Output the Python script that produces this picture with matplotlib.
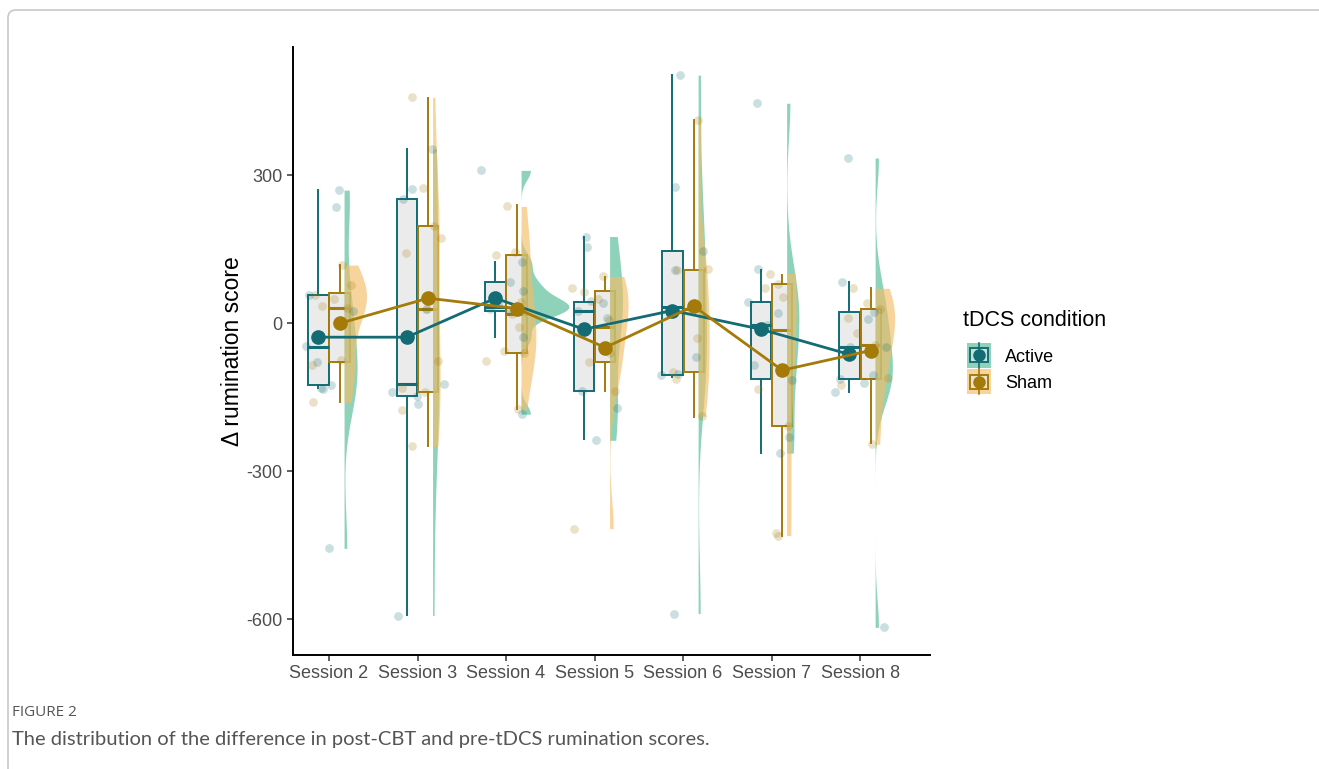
import numpy as np
import matplotlib
matplotlib.use("Agg")
import matplotlib.pyplot as plt
from matplotlib.patches import Patch, Rectangle, FancyBboxPatch
from matplotlib.lines import Line2D
from matplotlib.legend_handler import HandlerBase
from matplotlib.transforms import IdentityTransform

# sessions
sessions = ["Session 2", "Session 3", "Session 4", "Session 5", "Session 6", "Session 7", "Session 8"]

# individual scores (hidden ones estimated from the boxes)
active_pts = [
    [270, 235, 57, 26, -46, -79, -124, -130, -134, -456],
    [353, 272, 251, 30, -122, -140, -148, -164, -592],
    [310, 124, 83, 65, 40, 34, 30, 28, 26, -28, -184],
    [176, 154, 45, 41, 26, 10, -138, -172, -237],
    [503, 276, 146, 109, 33, -69, -103, -105, -588],
    [446, 111, 43, 20, -4, -85, -114, -231, -263],
    [335, 83, 24, 8, -47, -47, -104, -112, -120, -140, -616],
]
sham_pts = [
    [118, 77, 57, 50, 36, 32, -75, -85, -160],
    [458, 274, 197, 172, 142, 30, -77, -130, -140, -175, -249],
    [237, 144, 138, 43, 18, -8, -57, -61, -77, -174],
    [95, 71, 63, 50, 6, -8, -61, -79, -138, -416],
    [413, 111, 109, 30, -30, -99, -113, -188],
    [101, 79, 71, 53, -14, -132, -207, -425, -430],
    [71, 41, 30, 10, -20, -43, -110, -124, -245],
]
# horizontal jitter of the points (px)
active_jit = [
    [10, 7, -20, 24, -23, -12, 2, -8, -6, 0],
    [14, -6, -15, 8, 26, -26, -1, 0, -20],
    [-25, 16, 4, 17, -8, 9, -16, 3, 12, 17, 16],
    [-9, -8, -4, 8, -17, 12, -13, 22, 1],
    [-3, -8, 20, -8, 10, 13, -5, -22, -9],
    [-15, -14, -24, 6, -5, -18, 20, 17, 8],
    [-12, -18, 14, 8, 26, -10, 13, -20, 4, -25, 24],
]
sham_jit = [
    [13, 22, -14, 5, -7, 18, 12, -17, -16],
    [-6, 5, 16, 23, -12, 9, 20, -16, 7, -16, -6],
    [1, 9, -10, 15, 6, 13, -2, 18, -20, 12],
    [8, -23, -11, 3, 14, -11, 15, -6, 20, -21],
    [15, 25, -6, 8, 14, -10, -7, 19],
    [-2, 6, -7, 11, -12, -14, 16, 4, 6],
    [-7, 7, 20, -12, -3, 15, 28, -19, 12],
]

# box statistics: whisker high, q3, median, q1, whisker low
active_box = [
    [270, 57, -47, -124, -130],
    [353, 251, -122, -148, -590],
    [124, 83, 34, 26, -28],
    [174, 43, 26, -138, -235],
    [503, 146, 33, -105, -108],
    [109, 43, -4, -113, -263],
    [83, 24, -47, -112, -140],
]
sham_box = [
    [118, 61, 32, -79, -160],
    [456, 197, 30, -140, -249],
    [239, 138, 18, -61, -174],
    [93, 65, -8, -79, -138],
    [413, 109, 30, -99, -189],
    [99, 79, -14, -207, -430],
    [71, 30, -43, -112, -243],
]

# group means
active_mean = [-28, -28, 51, -12, 26, -12, -63]
sham_mean = [0, 51, 30, -49, 35, -95, -55]

# colours
c_act = "#136b74"
c_sham = "#a47a08"
v_act = "#52ba95"
v_sham = "#f3bd66"
box_fill = "#ebebeb"
v_alpha = 0.65

plt.rcParams["font.family"] = ["Liberation Sans", "DejaVu Sans"]
plt.rcParams["axes.unicode_minus"] = False

fig = plt.figure(figsize=(13.19, 7.69), dpi=100)
ax = fig.add_axes([293 / 1319, 1 - 655 / 769, (930 - 293) / 1319, (655 - 47) / 769])

pos = np.arange(len(sessions))
px = 88.5  # pixels per category
n = len(sessions)


def kde(vals, grid):
    v = np.asarray(vals, float)
    m = len(v)
    sd = v.std(ddof=1)
    iqr = np.percentile(v, 75) - np.percentile(v, 25)
    bw = 0.9 * min(sd, iqr / 1.34) * m ** -0.2
    d = np.exp(-0.5 * ((grid[:, None] - v[None, :]) / bw) ** 2).sum(axis=1)
    return d / (m * bw * np.sqrt(2 * np.pi))


# half violins (same area for all)
dens = []
for grp in (active_pts, sham_pts):
    for vals in grp:
        g = np.linspace(min(vals), max(vals), 300)
        dens.append((g, kde(vals, g)))
k = 0.54 / max(d.max() for g, d in dens)

# boxplots
for box, off, col in [(active_box, -0.12, c_act), (sham_box, 0.12, c_sham)]:
    stats = []
    for b in box:
        stats.append(dict(whishi=b[0], q3=b[1], med=b[2], q1=b[3], whislo=b[4]))
    ax.bxp(stats, positions=pos + off, widths=0.23, patch_artist=True,
           showcaps=False, showfliers=False, manage_ticks=False,
           boxprops=dict(facecolor=box_fill, edgecolor=col, lw=1.4),
           medianprops=dict(color=col, lw=2.2),
           whiskerprops=dict(color=col, lw=1.4), zorder=2)

for i in range(n):
    base = pos[i] + 0.17
    for j, col in enumerate([v_act, v_sham]):
        g, d = dens[j * n + i]
        ax.fill_betweenx(g, base, base + d * k, color=col, alpha=v_alpha, lw=0, zorder=3)

# jittered points
for pts, jit, col in [(active_pts, active_jit, c_act), (sham_pts, sham_jit, c_sham)]:
    for i in range(n):
        xs = pos[i] + np.array(jit[i]) / px
        ax.scatter(xs, pts[i], s=40, color=col, alpha=0.22, lw=0, zorder=4)

# means and connecting lines
ax.plot(pos - 0.12, active_mean, color=c_act, lw=2, marker="o", ms=9.5, zorder=6)
ax.plot(pos + 0.12, sham_mean, color=c_sham, lw=2, marker="o", ms=9.5, zorder=6)

ax.set_xlim(-0.407, 6.79)
ax.set_ylim(-672, 560)
ax.set_xticks(pos)
ax.set_xticklabels(sessions)
ax.set_yticks([300, 0, -300, -600])
ax.tick_params(axis="both", labelsize=13, colors="#333333", labelcolor="#4d4d4d",
               length=4, width=1.1)
for s in ["top", "right"]:
    ax.spines[s].set_visible(False)
for s in ["left", "bottom"]:
    ax.spines[s].set_linewidth(1.4)
ax.set_ylabel("\u0394 rumination score", fontsize=16.5, labelpad=2)


class BoxKey(HandlerBase):
    def __init__(self, fill, edge):
        super().__init__()
        self.fill = fill
        self.edge = edge

    def create_artists(self, legend, orig_handle, xdescent, ydescent, width, height,
                       fontsize, trans):
        x0, y0 = -xdescent, -ydescent - 3
        h = height + 6
        bg = Rectangle((x0, y0), width, h, fc=self.fill, alpha=v_alpha, lw=0, transform=trans)
        vl = Line2D([x0 + width / 2] * 2, [y0, y0 + h], color=self.edge, lw=1.2, transform=trans)
        bx = Rectangle((x0 + 0.12 * width, y0 + 0.22 * h), 0.76 * width, 0.56 * h,
                       fc=box_fill, alpha=0.6, ec=self.edge, lw=1.3, transform=trans)
        bx2 = Rectangle((x0 + 0.12 * width, y0 + 0.22 * h), 0.76 * width, 0.56 * h,
                        fill=False, ec=self.edge, lw=1.3, transform=trans)
        dot = Line2D([x0 + width / 2], [y0 + h / 2], marker="o", ms=8, color=self.edge,
                     transform=trans)
        return [bg, bx, bx2, vl, dot]


# legend title separately, entries below
fig.text(963 / 1319, 1 - 320 / 769, "tDCS condition", fontsize=15.5, va="center", ha="left")
h_act = Patch(facecolor=v_act)
h_sham = Patch(facecolor=v_sham)
leg = fig.legend([h_act, h_sham], ["Active", "Sham"], loc="upper left",
                 bbox_to_anchor=(951 / 1319, 1 - 331 / 769), frameon=False, fontsize=13,
                 handler_map={h_act: BoxKey(v_act, c_act), h_sham: BoxKey(v_sham, c_sham)},
                 handlelength=1.3, handleheight=1.0, labelspacing=0.45, handletextpad=0.8)

# caption
fig.text(12 / 1319, 1 - 713 / 769, "FIGURE 2", fontsize=11, color="#555555",
         family=["Open Sans", "DejaVu Sans"], va="center")
fig.text(12 / 1319, 1 - 739 / 769,
         "The distribution of the difference in post-CBT and pre-tDCS rumination scores.",
         fontsize=14.5, color="#555555", family=["Lato", "DejaVu Sans"], va="center")

# frame
frame = FancyBboxPatch((8, -40), 1400, 759 + 40, boxstyle="round,pad=0,rounding_size=8",
                       transform=IdentityTransform(), fill=False, ec="#c8c8c8", lw=1.2)
fig.patches.append(frame)

fig.savefig("out.png", dpi=100)
